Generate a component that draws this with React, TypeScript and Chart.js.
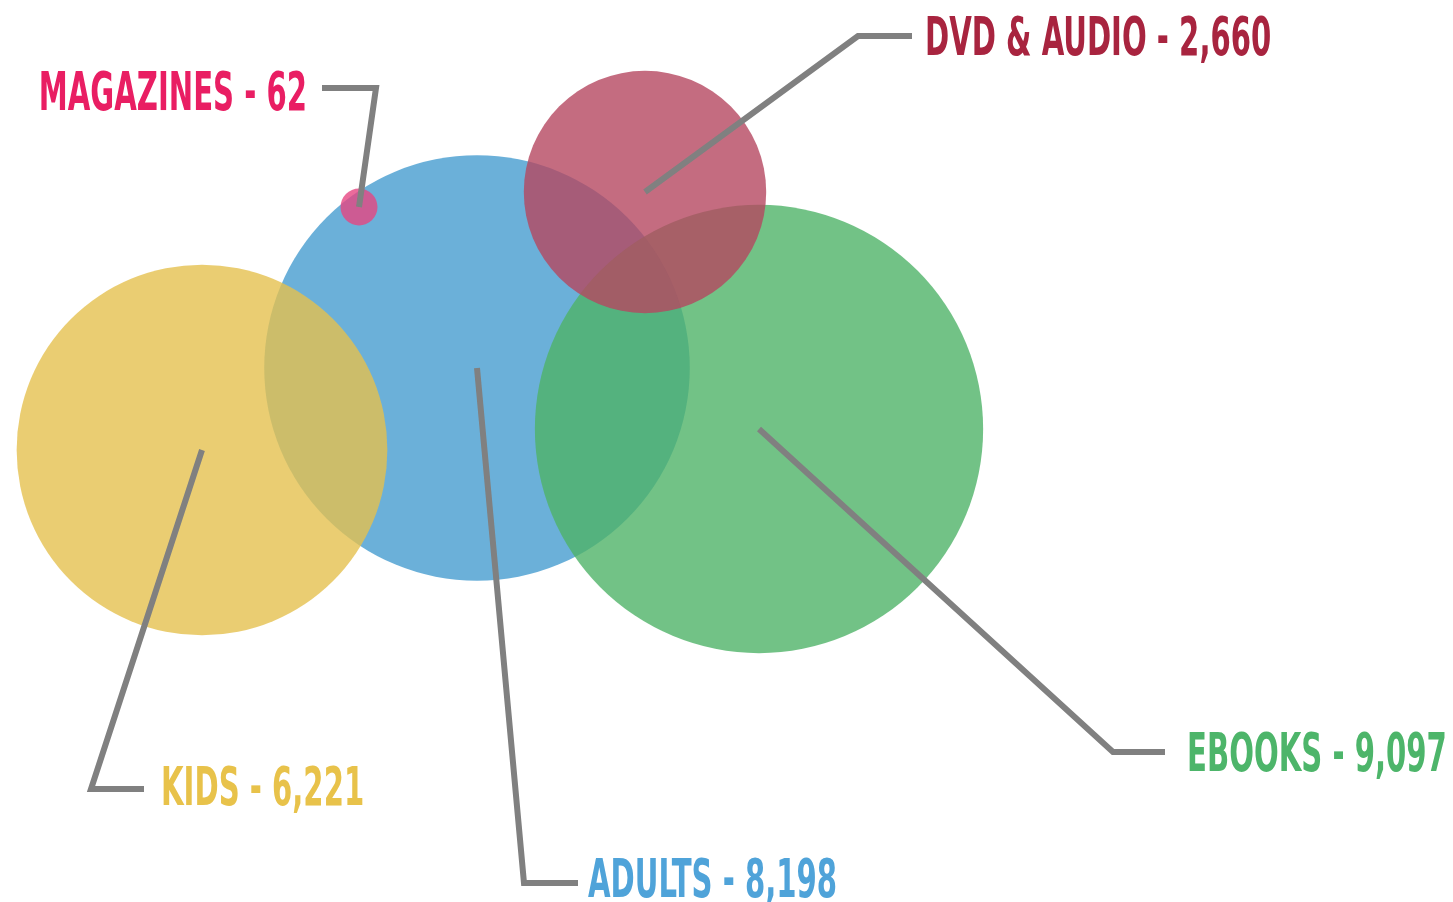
import React, { useEffect, useRef } from "react";
import { Chart, registerables } from "chart.js";

Chart.register(...registerables);

// ---- data ----
const categories = ["Adults", "Kids", "Ebooks", "DVD & Audio", "Magazines"];
const values = [8198, 6221, 9097, 2660, 62];
const labels = ["ADULTS - 8,198", "KIDS - 6,221", "EBOOKS - 9,097", "DVD & AUDIO - 2,660", "MAGAZINES - 62"];
// bubble placement (arbitrary layout units)
const xPos = [47.7, 20.2, 75.9, 64.5, 35.9];
const yPos = [53.4, 45.2, 47.3, 71.0, 69.5];

// ---- callout layout (layout units) ----
const elbowX = [52.4, 9.1, 111.3, 85.8, 37.6];
const elbowY = [1.9, 11.3, 15.0, 86.6, 81.4];
const endX = [57.8, 14.4, 116.5, 91.2, 32.2];
const labelX = [58.8, 16.1, 118.7, 92.5, 30.7];
const labelY = [2.4, 11.6, 15.0, 86.6, 81.1];
const labelAlign: CanvasTextAlign[] = ["left", "left", "left", "left", "right"];

// ---- styles ----
const fillColors = [
  "rgba(70,156,207,0.8)",
  "rgba(229,193,79,0.8)",
  "rgba(79,179,104,0.8)",
  "rgba(181,71,96,0.8)",
  "rgba(230,70,130,0.8)",
];
const textColors = ["#4FA3D9", "#E8C24A", "#4DB56A", "#A8243F", "#E91E63"];
const RADIUS_K = 2.35;

const calloutPlugin = {
  id: "callouts",
  afterDatasetsDraw(chart: any) {
    const ctx = chart.ctx as CanvasRenderingContext2D;
    const meta = chart.getDatasetMeta(0);
    const xs = chart.scales.x;
    const ys = chart.scales.y;
    ctx.save();
    ctx.strokeStyle = "#808080";
    ctx.lineWidth = 6;
    ctx.lineJoin = "miter";
    ctx.lineCap = "butt";
    meta.data.forEach((el: any, i: number) => {
      const ex = xs.getPixelForValue(elbowX[i]);
      const ey = ys.getPixelForValue(elbowY[i]);
      const tx = xs.getPixelForValue(endX[i]);
      ctx.beginPath();
      ctx.moveTo(el.x, el.y);
      ctx.lineTo(ex, ey);
      ctx.lineTo(tx, ey);
      ctx.stroke();
    });
    ctx.font = "bold 54px 'DejaVu Sans Condensed', 'Liberation Sans Narrow', sans-serif";
    ctx.textBaseline = "alphabetic";
    meta.data.forEach((_el: any, i: number) => {
      const lx = xs.getPixelForValue(labelX[i]);
      const ly = ys.getPixelForValue(labelY[i]);
      ctx.save();
      ctx.translate(lx, ly + 19);
      ctx.scale(0.6, 1);
      ctx.fillStyle = textColors[i];
      ctx.textAlign = labelAlign[i];
      ctx.fillText(labels[i], 0, 0);
      ctx.restore();
    });
    ctx.restore();
  },
};

export default function App() {
  const ref = useRef<HTMLCanvasElement>(null);
  useEffect(() => {
    if (!ref.current) return;
    const chart = new Chart(ref.current, {
      type: "bubble",
      data: {
        datasets: [
          {
            label: "Circulation",
            data: categories.map((c, i) => ({ x: xPos[i], y: yPos[i], r: RADIUS_K * Math.sqrt(values[i]) })),
            backgroundColor: fillColors,
            borderWidth: 0,
            hoverBorderWidth: 0,
            clip: false as any,
          },
        ],
      },
      options: {
        animation: false,
        responsive: true,
        maintainAspectRatio: false,
        layout: { padding: 0, autoPadding: false },
        events: [],
        plugins: { legend: { display: false }, tooltip: { enabled: false } },
        scales: {
          x: { type: "linear", display: false, min: 0, max: 145.3 },
          y: { type: "linear", display: false, min: 0, max: 90.2 },
        },
      },
      plugins: [calloutPlugin],
    });
    return () => chart.destroy();
  }, []);
  return (
    <div style={{ position: "fixed", left: 0, top: 0, width: 1453, height: 902, background: "#fff" }}>
      <canvas ref={ref} />
    </div>
  );
}
